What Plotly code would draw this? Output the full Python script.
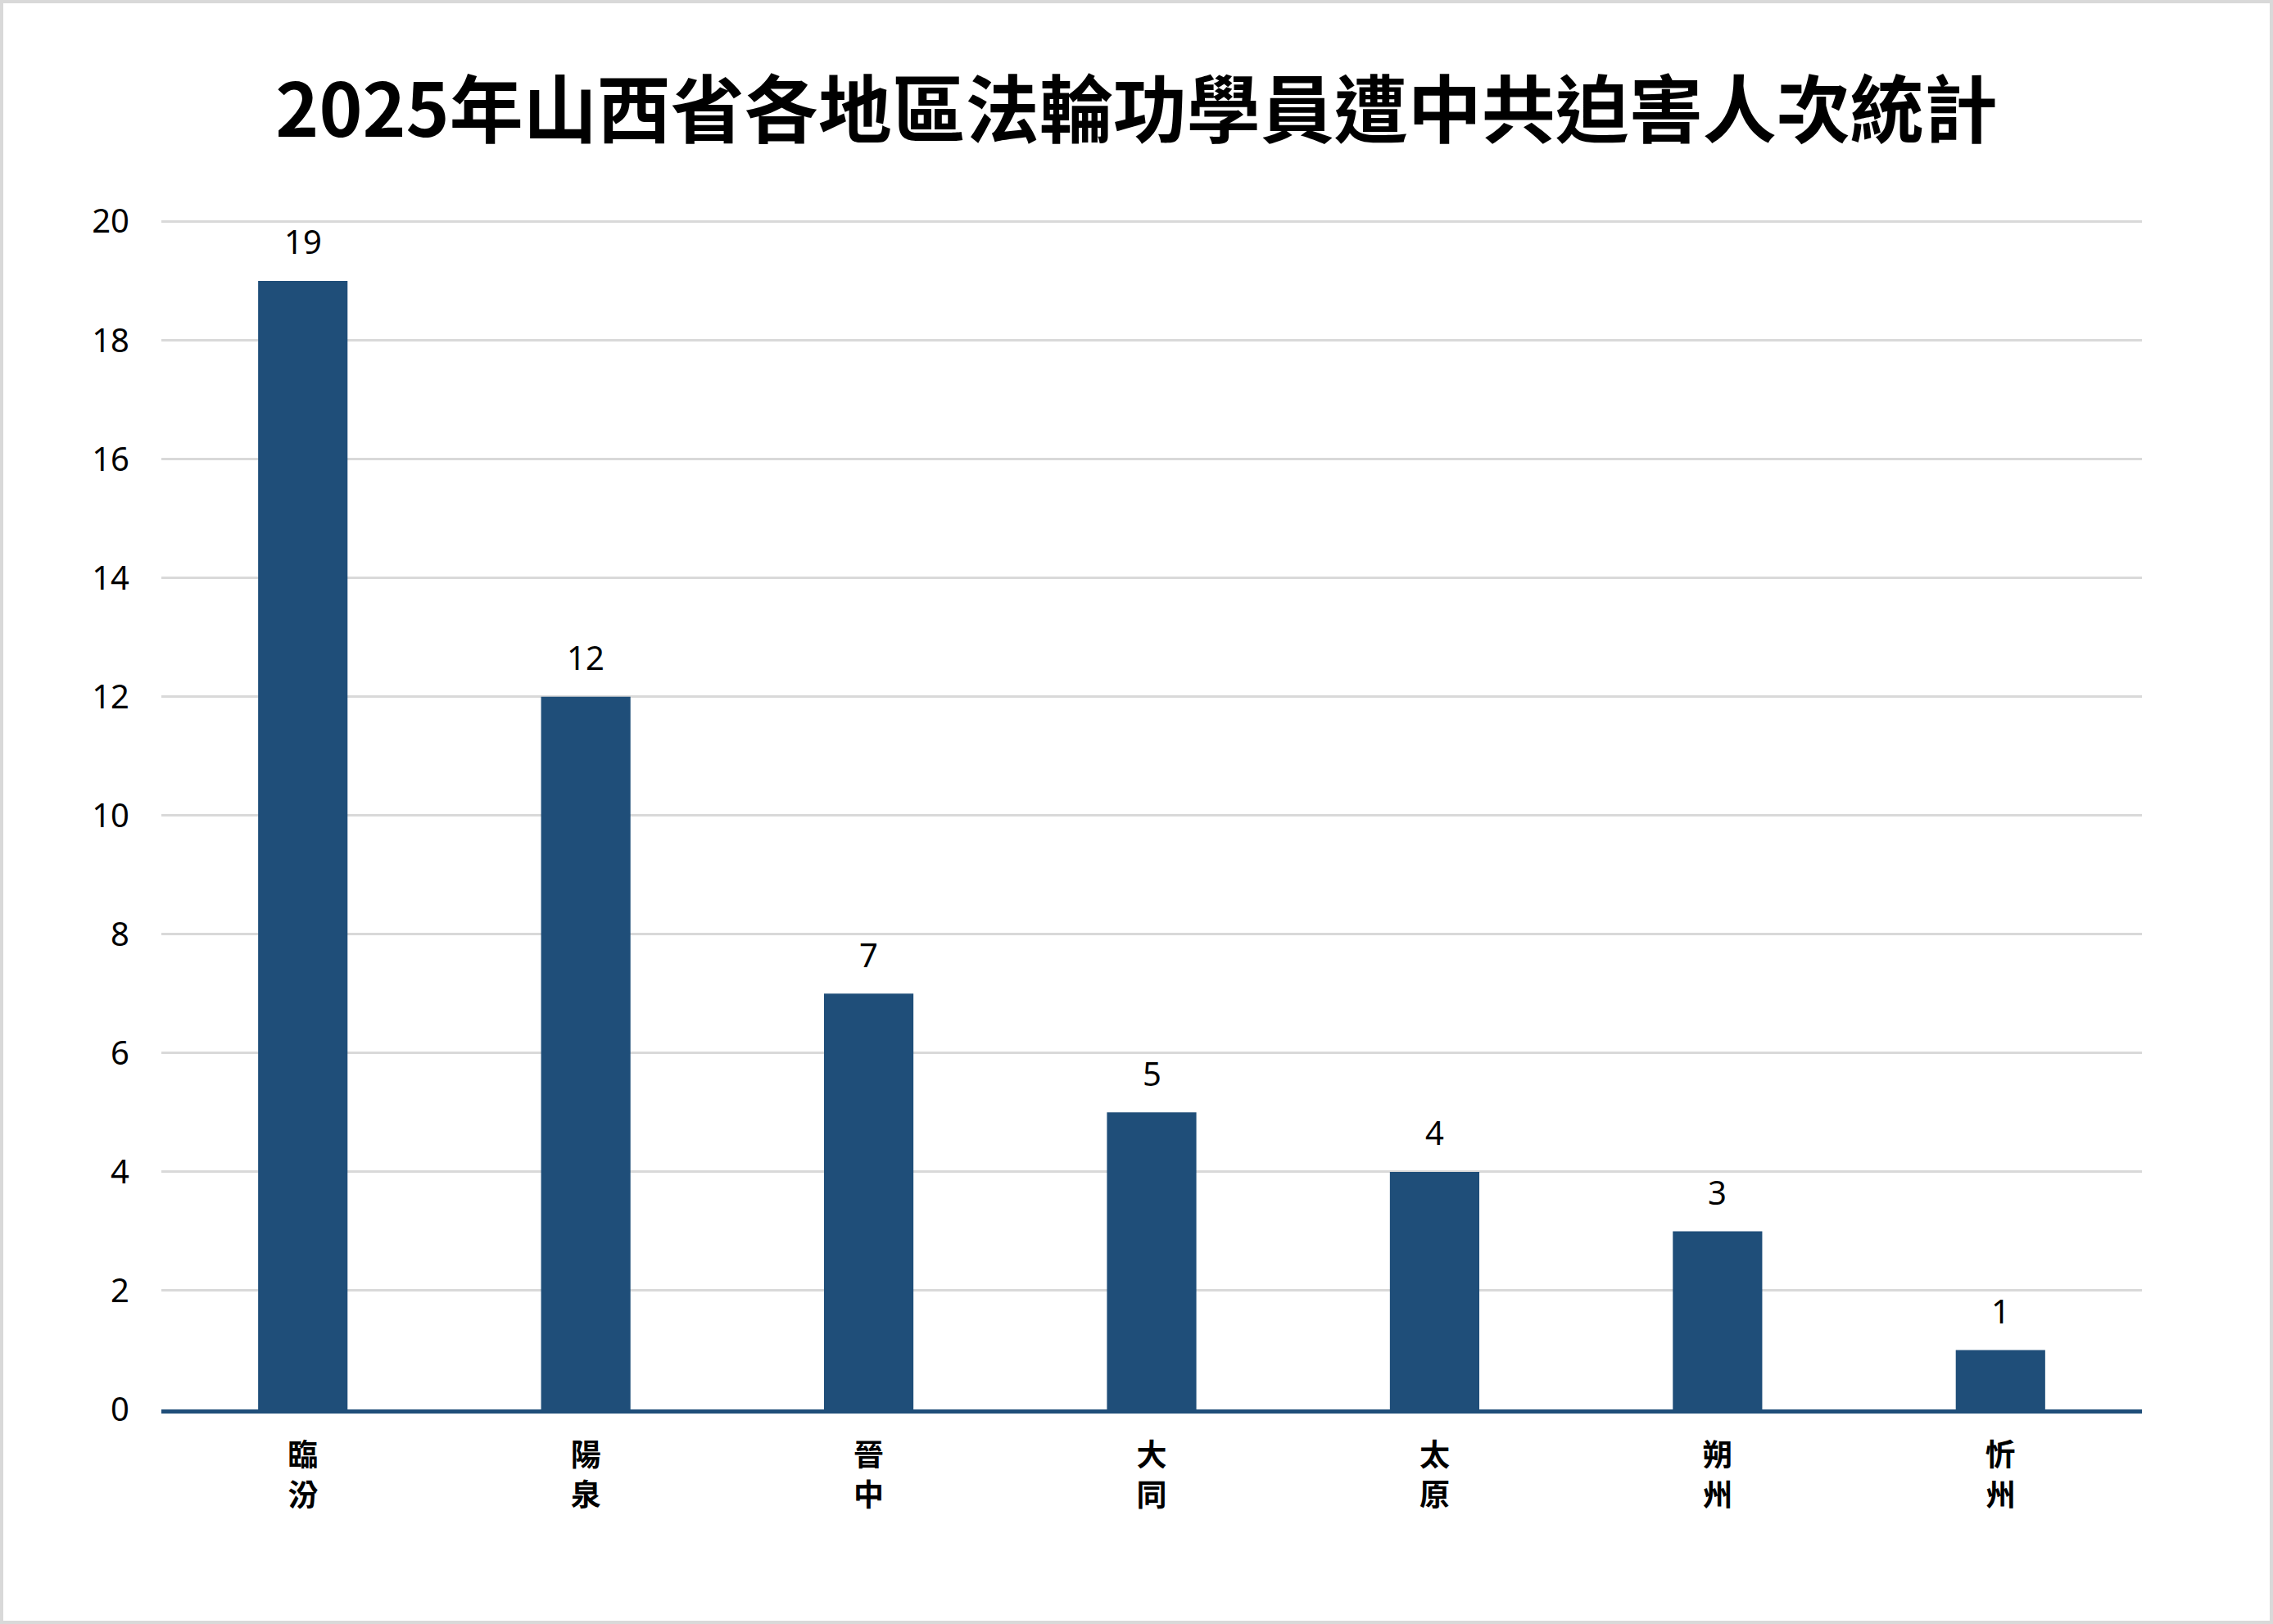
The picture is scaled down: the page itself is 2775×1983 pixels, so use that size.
import plotly.graph_objects as go

# data
regions = ["臨汾", "陽泉", "晉中", "大同", "太原", "朔州", "忻州"]
counts = [19, 12, 7, 5, 4, 3, 1]
region_labels = ["<br>".join(list(r)) for r in regions]
y_ticks = list(range(0, 22, 2))

title_text = "2025年山西省各地區法輪功學員遭中共迫害人次統計"

bar_color = "#1F4E79"
grid_color = "#D9D9D9"
cjk_font = "Noto Sans CJK TC"

W, H = 2775, 1983
ml, mr, mt, mb = 197, 160, 269, 262
pw, ph = W - ml - mr, H - mt - mb

fig = go.Figure()
fig.add_trace(go.Bar(x=regions, y=counts, marker_color=bar_color,
                     marker_line_width=0, hoverinfo="x+y"))

# value labels above bars
for r, c in zip(regions, counts):
    fig.add_annotation(x=r, y=c, text=str(c), showarrow=False,
                       yanchor="middle", yshift=48,
                       font=dict(family="Noto Sans", size=40, color="black"))

# light grey frame around the whole chart
fig.add_shape(type="rect", xref="paper", yref="paper",
              x0=-(ml - 2) / pw, x1=1 + (mr - 2) / pw,
              y0=-(mb - 2) / ph, y1=1 + (mt - 2) / ph,
              line=dict(color=grid_color, width=4), layer="below")

fig.update_layout(
    width=W, height=H,
    margin=dict(l=ml, r=mr, t=mt, b=mb),
    paper_bgcolor="white", plot_bgcolor="white",
    bargap=0.684,
    showlegend=False,
    title=dict(text=title_text, x=0.5, xanchor="center",
               y=1 - 135 / H, yanchor="middle",
               font=dict(family=cjk_font, size=90, color="black", weight="bold")),
)
fig.update_xaxes(tickvals=regions, ticktext=region_labels,
                 showline=True, linecolor=bar_color, linewidth=5,
                 showgrid=False, ticks="", ticklabelstandoff=20,
                 tickfont=dict(family=cjk_font, size=37, color="black", weight="bold"))
fig.update_yaxes(range=[0, 20.02], tickvals=y_ticks,
                 showgrid=True, gridcolor=grid_color, gridwidth=2.5,
                 zeroline=False, showline=False, ticks="", ticklabelstandoff=38,
                 tickfont=dict(family="Noto Sans", size=40, color="black"))

fig.write_html("out.html", config={"displayModeBar": False},
               post_script="document.body.style.margin='0px';")
